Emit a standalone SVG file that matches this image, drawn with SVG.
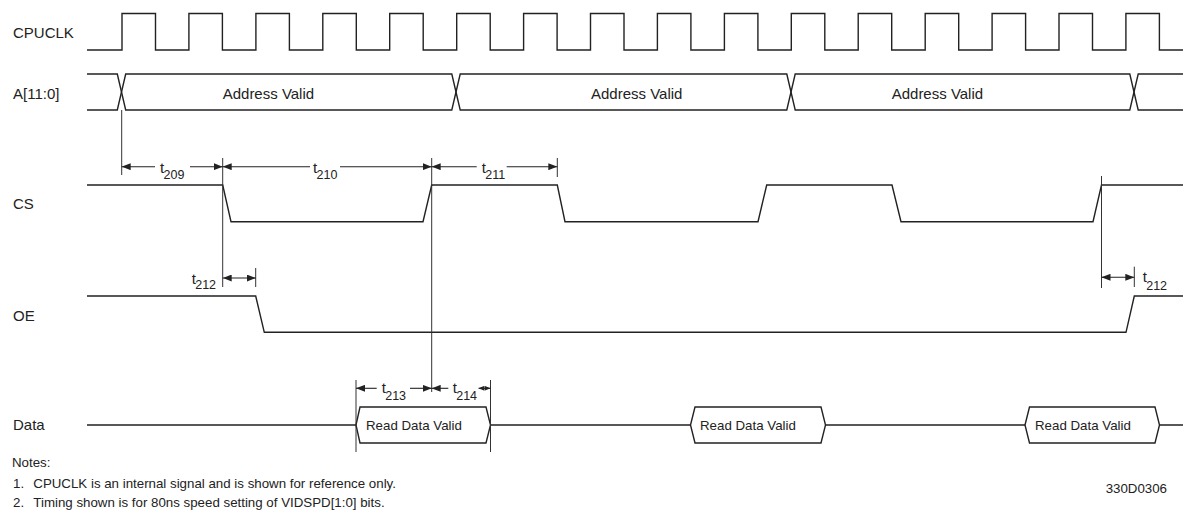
<svg xmlns="http://www.w3.org/2000/svg" width="1184" height="515" viewBox="0 0 1184 515">
<defs>
<marker id="ah" markerUnits="userSpaceOnUse" markerWidth="9" markerHeight="7" refX="9" refY="3.5" orient="auto-start-reverse"><path d="M0,0 L9,3.5 L0,7 z" fill="#222"/></marker>
<marker id="ahs" markerUnits="userSpaceOnUse" markerWidth="6" markerHeight="5" refX="6" refY="2.5" orient="auto-start-reverse"><path d="M0,0 L6,2.5 L0,5 z" fill="#222"/></marker>
</defs>
<style>
.sig{fill:none;stroke:#222;stroke-width:1.4;stroke-linejoin:miter}
.ref{fill:none;stroke:#333;stroke-width:1}
.dim{fill:none;stroke:#222;stroke-width:1.1}
.lbl{font-family:"Liberation Sans",Arial,sans-serif;font-size:15px;fill:#222}
.bus{font-family:"Liberation Sans",Arial,sans-serif;font-size:13.3px;fill:#222}
.t{font-family:"Liberation Sans",Arial,sans-serif;font-size:15px;fill:#222}
.sub{font-family:"Liberation Sans",Arial,sans-serif;font-size:12.5px;fill:#222}
.note{font-family:"Liberation Sans",Arial,sans-serif;font-size:13.3px;fill:#222}
</style>
<rect width="1184" height="515" fill="#fff"/>

<g id="cpuclk">
<text class="lbl" x="13" y="38">CPUCLK</text>
<path class="sig" d="M87,50 H122 V13.5 H155.5 V50 H188.9 V13.5 H222.4 V50 H255.9 V13.5 H289.4 V50 H322.8 V13.5 H356.3 V50 H389.7 V13.5 H423.2 V50 H456.7 V13.5 H490.2 V50 H523.6 V13.5 H557.1 V50 H590.5 V13.5 H624 V50 H657.4 V13.5 H690.9 V50 H724.4 V13.5 H757.9 V50 H791.3 V13.5 H824.8 V50 H858.2 V13.5 H891.7 V50 H925.2 V13.5 H958.7 V50 H992.1 V13.5 H1025.6 V50 H1059 V13.5 H1092.5 V50 H1125.9 V13.5 H1159.4 V50 H1183"/>
</g>

<g id="addr">
<text class="lbl" x="13" y="99">A[11:0]</text>
<path class="sig" d="M87,74 H117.3 L125.7,110 H451.8 L460.2,74 H786.8 L795.2,110 H1129.8 L1138.2,74 H1183"/>
<path class="sig" d="M87,110 H117.3 L125.7,74 H451.8 L460.2,110 H786.8 L795.2,74 H1129.8 L1138.2,110 H1183"/>
<text class="lbl" x="222.7" y="99">Address Valid</text>
<text class="lbl" x="591" y="99">Address Valid</text>
<text class="lbl" x="891.7" y="99">Address Valid</text>
</g>

<g id="cs">
<text class="lbl" x="13" y="209">CS</text>
<path class="sig" d="M87,185 H222.7 L231,221.7 H423 L431.7,185 H557.3 L565,221.7 H758 L766.7,185 H892 L901,221.7 H1093 L1101.5,185 H1183"/>
</g>

<g id="oe">
<text class="lbl" x="13" y="321">OE</text>
<path class="sig" d="M87,296 H255.7 L264.3,332.3 H1126 L1134.3,296 H1183"/>
</g>

<g id="data">
<text class="lbl" x="13" y="430">Data</text>
<path class="sig" d="M87,425 H356 M490.5,425 H690.5 M825.5,425 H1025 M1159.5,425 H1183"/>
<path class="sig" d="M356,425 L360,407 H486 L490.5,425 L486,443 H360 Z"/>
<path class="sig" d="M690.5,425 L695,407 H821 L825.5,425 L821,443 H695 Z"/>
<path class="sig" d="M1025,425 L1029.5,407 H1155 L1159.5,425 L1155,443 H1029.5 Z"/>
<text class="bus" x="366" y="430">Read Data Valid</text>
<text class="bus" x="700" y="430">Read Data Valid</text>
<text class="bus" x="1035" y="430">Read Data Valid</text>
</g>

<g id="connectors">
<path class="ref" d="M121.7,110 V175 M222.7,158 V287 M255.7,268 V287 M431.7,158 V392 M557.3,158 V177 M1101.5,176 V288 M1134.3,266.7 V287 M356,380 V452 M490.5,380 V452"/>
<line class="dim" x1="121.7" y1="166.7" x2="155" y2="166.7" marker-start="url(#ah)"/>
<line class="dim" x1="190" y1="166.7" x2="222.7" y2="166.7" marker-end="url(#ah)"/>
<line class="dim" x1="222.7" y1="166.7" x2="310" y2="166.7" marker-start="url(#ah)"/>
<line class="dim" x1="340" y1="166.7" x2="431.7" y2="166.7" marker-end="url(#ah)"/>
<line class="dim" x1="431.7" y1="166.7" x2="476.7" y2="166.7" marker-start="url(#ah)"/>
<line class="dim" x1="506.7" y1="166.7" x2="557.3" y2="166.7" marker-end="url(#ah)"/>
<line class="dim" x1="222.7" y1="278" x2="255.7" y2="278" marker-start="url(#ah)" marker-end="url(#ah)"/>
<line class="dim" x1="1101.5" y1="277.3" x2="1134.3" y2="277.3" marker-start="url(#ah)" marker-end="url(#ah)"/>
<line class="dim" x1="356" y1="388.3" x2="376.7" y2="388.3" marker-start="url(#ah)"/>
<line class="dim" x1="410" y1="388.3" x2="431.7" y2="388.3" marker-end="url(#ah)"/>
<line class="dim" x1="431.7" y1="388.3" x2="448.3" y2="388.3" marker-start="url(#ah)"/>
<line class="dim" x1="478.5" y1="388.3" x2="490.5" y2="388.3" marker-start="url(#ahs)" marker-end="url(#ahs)"/>
<text class="t" x="160" y="172.5">t</text><text class="sub" x="163.5" y="179">209</text>
<text class="t" x="313" y="172.5">t</text><text class="sub" x="316.5" y="179">210</text>
<text class="t" x="481.7" y="172.5">t</text><text class="sub" x="485.2" y="179">211</text>
<text class="t" x="191.7" y="283.5">t</text><text class="sub" x="195.2" y="289">212</text>
<text class="t" x="1142.7" y="282">t</text><text class="sub" x="1146.2" y="290">212</text>
<text class="t" x="381.7" y="393.3">t</text><text class="sub" x="385.2" y="399.5">213</text>
<text class="t" x="452.7" y="393.3">t</text><text class="sub" x="456.2" y="399.5">214</text>
</g>

<g id="notes">
<text class="note" x="12" y="466.5">Notes:</text>
<text class="note" x="13" y="488">1.</text>
<text class="note" x="33.3" y="488">CPUCLK is an internal signal and is shown for reference only.</text>
<text class="note" x="13" y="506.5">2.</text>
<text class="note" x="33.3" y="506.5">Timing shown is for 80ns speed setting of VIDSPD[1:0] bits.</text>
<text class="note" x="1167" y="493" text-anchor="end">330D0306</text>
</g>
</svg>
